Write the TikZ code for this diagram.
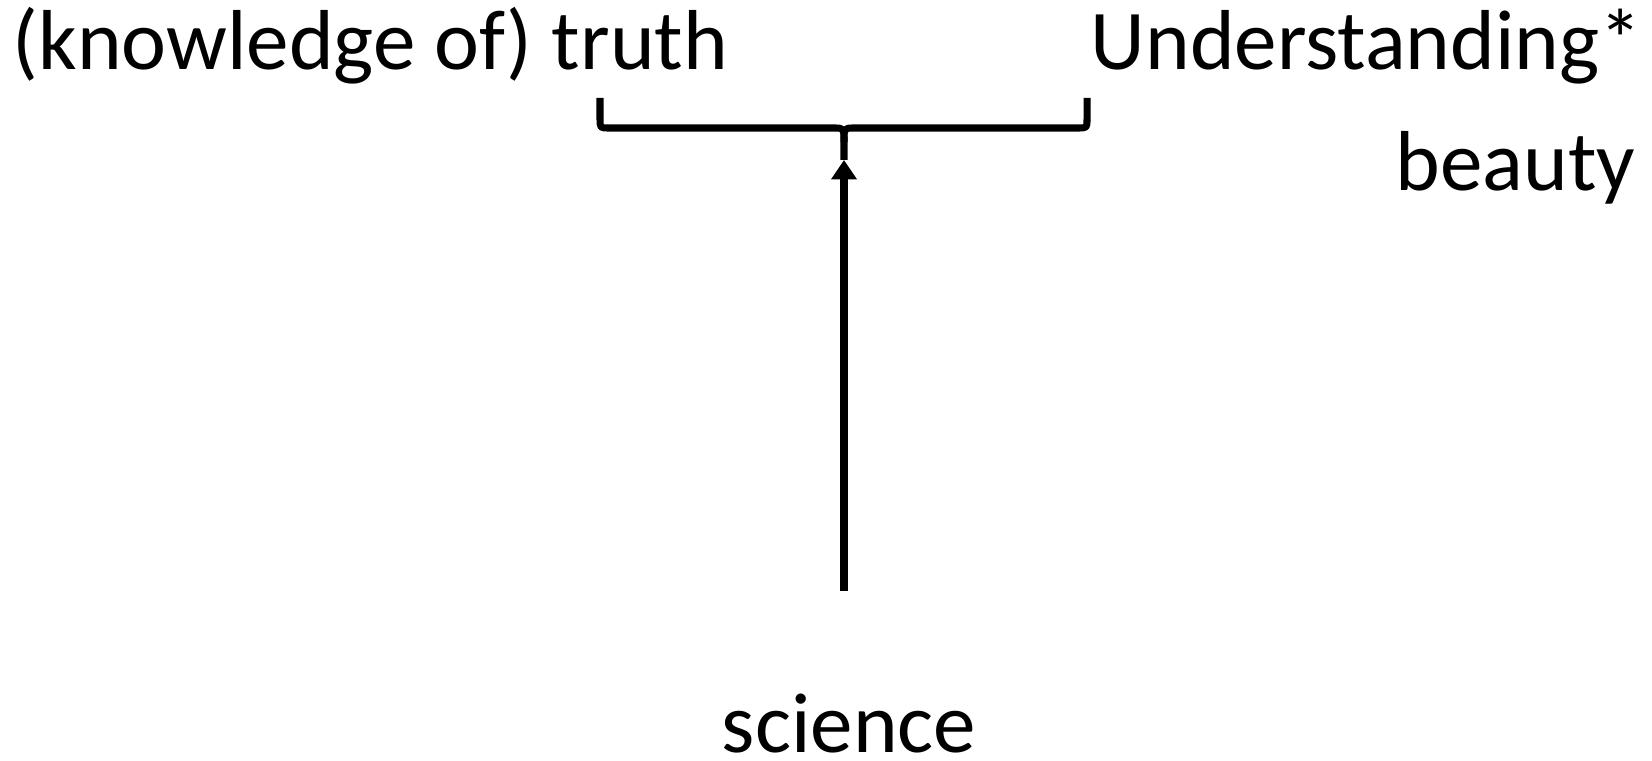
\documentclass[tikz,border=0pt]{standalone}
\usepackage{fontspec}
\setmainfont{Carlito}
\usetikzlibrary{arrows.meta}
\begin{document}
\begin{tikzpicture}[x=0.01cm,y=-0.01cm,
  lbl/.style={inner sep=0pt,font=\fontsize{24.2}{28}\selectfont},
  line/.style={line width=2pt,line cap=butt,line join=round}]
\useasboundingbox (0,0) rectangle (1652,761);
\node[lbl,anchor=base west] (truth) at (12,70) {(knowledge of) truth};
\node[lbl,anchor=base west] (under) at (1090,70) {Understanding*};
\node[lbl,anchor=base east] (beauty) at (1636,191) {beauty};
\node[lbl,anchor=base] (science) at (849,752) {science};
\coordinate (bl) at (600,98);
\coordinate (br) at (1087,98);
\coordinate (tip) at (844,160);
\coordinate (start) at (844,591);
\draw[line] (bl) -- (600,119) .. controls (600,128) .. (609,128) -- (834,128) .. controls (844,128) .. (844,142) -- (tip);
\draw[line] (br) -- (1087,119) .. controls (1087,128) .. (1078,128) -- (854,128) .. controls (844,128) .. (844,142);
\draw[line,-{Triangle[width=7pt,length=5.5pt]}] (start) -- (tip);
\end{tikzpicture}
\end{document}
